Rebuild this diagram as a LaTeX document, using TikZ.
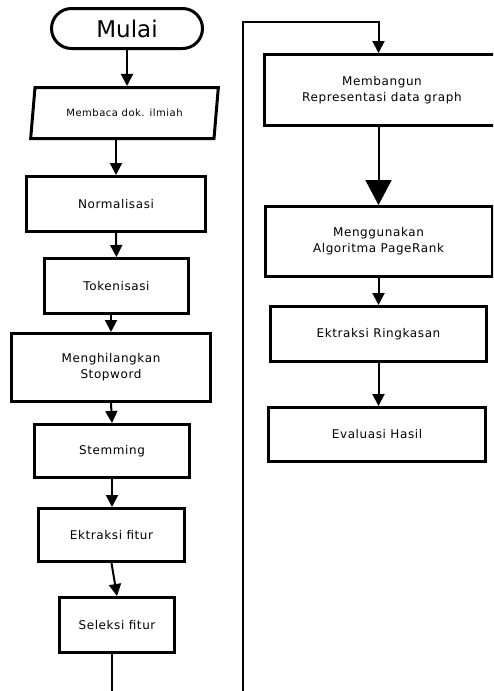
\documentclass[tikz,border=0pt]{standalone}
\usepackage{fontspec}
\setmainfont{DejaVu Sans}
\newfontfamily\lblfont[LetterSpace=5]{DejaVu Sans}
\usetikzlibrary{arrows.meta,shapes.geometric}
\tikzset{
  box/.style={draw, line width=3pt, rectangle, inner sep=0pt, align=center,
    font=\lblfont\fontsize{12}{16}\selectfont},
  conn/.style={line width=2pt, -{Triangle[width=12pt,length=12pt]}},
  bigconn/.style={line width=2pt, -{Triangle[width=26pt,length=25pt]}},
  plain/.style={line width=2pt}
}
\begin{document}
\begin{tikzpicture}[x=1pt,y=-1pt]
\useasboundingbox (0,0) rectangle (493,691);
\clip (0,0) rectangle (493,691);
\fill[white] (0,0) rectangle (493,691);
% left column
\node[box, rounded corners=20pt, minimum width=151pt, minimum height=40pt,
  font=\fontsize{23}{26}\selectfont] (mulai) at (127,28.5) {Mulai};
\node[box, trapezium, trapezium left angle=70, trapezium right angle=110,
  trapezium stretches=true, minimum width=188pt, minimum height=51pt,
  font=\lblfont\fontsize{10}{13}\selectfont] (membaca) at (124.5,113) {Membaca dok. ilmiah};
\node[box, minimum width=179pt, minimum height=55pt] (normal) at (116,204) {Normalisasi};
\node[box, minimum width=144pt, minimum height=55pt] (token) at (116.5,286) {Tokenisasi};
\node[box, minimum width=199pt, minimum height=68pt] (stop) at (111,367.5) {Menghilangkan\\Stopword};
\node[box, minimum width=155pt, minimum height=53pt] (stem) at (112,451) {Stemming};
\node[box, minimum width=146pt, minimum height=53pt] (ekstr) at (111.5,535) {Ektraksi fitur};
\node[box, minimum width=115pt, minimum height=55pt] (seleksi) at (117,625) {Seleksi fitur};
% right column
\node[box, minimum width=235pt, minimum height=71pt] (bangun) at (382,90) {Membangun\\Representasi data graph};
\node[box, minimum width=227pt, minimum height=70pt] (guna) at (378.5,241.5) {Menggunakan\\Algoritma PageRank};
\node[box, minimum width=216pt, minimum height=55pt] (ringkas) at (378.5,334) {Ektraksi Ringkasan};
\node[box, minimum width=217pt, minimum height=54pt] (eval) at (377,434.5) {Evaluasi Hasil};
% coordinates for off-page connector
\coordinate (endA) at (112,695);
\coordinate (startB) at (243,695);
\coordinate (cornerB) at (243,22);
% connectors
\draw[conn] (mulai.south) -- (mulai.south |- membaca.north);
\draw[conn] (normal.north |- membaca.south) -- (normal.north);
\draw[conn] (normal.south) -- (token.north);
\draw[conn] (token.south -| stop.north) -- (stop.north);
\draw[conn] (stop.south) -- (stem.north);
\draw[conn] (stem.south) -- (stem.south |- ekstr.north);
\draw[conn] (ekstr.south) -- (seleksi.north);
\draw[plain] (seleksi.south -| endA) -- (endA);
\draw[conn] (startB) -- (cornerB) -- (guna.north |- cornerB) -- (guna.north |- bangun.north);
\draw[bigconn] (bangun.south -| guna.north) -- (guna.north);
\draw[conn] (guna.south -| ringkas.north) -- (ringkas.north);
\draw[conn] (ringkas.south) -- (ringkas.south |- eval.north);
\end{tikzpicture}
\end{document}
